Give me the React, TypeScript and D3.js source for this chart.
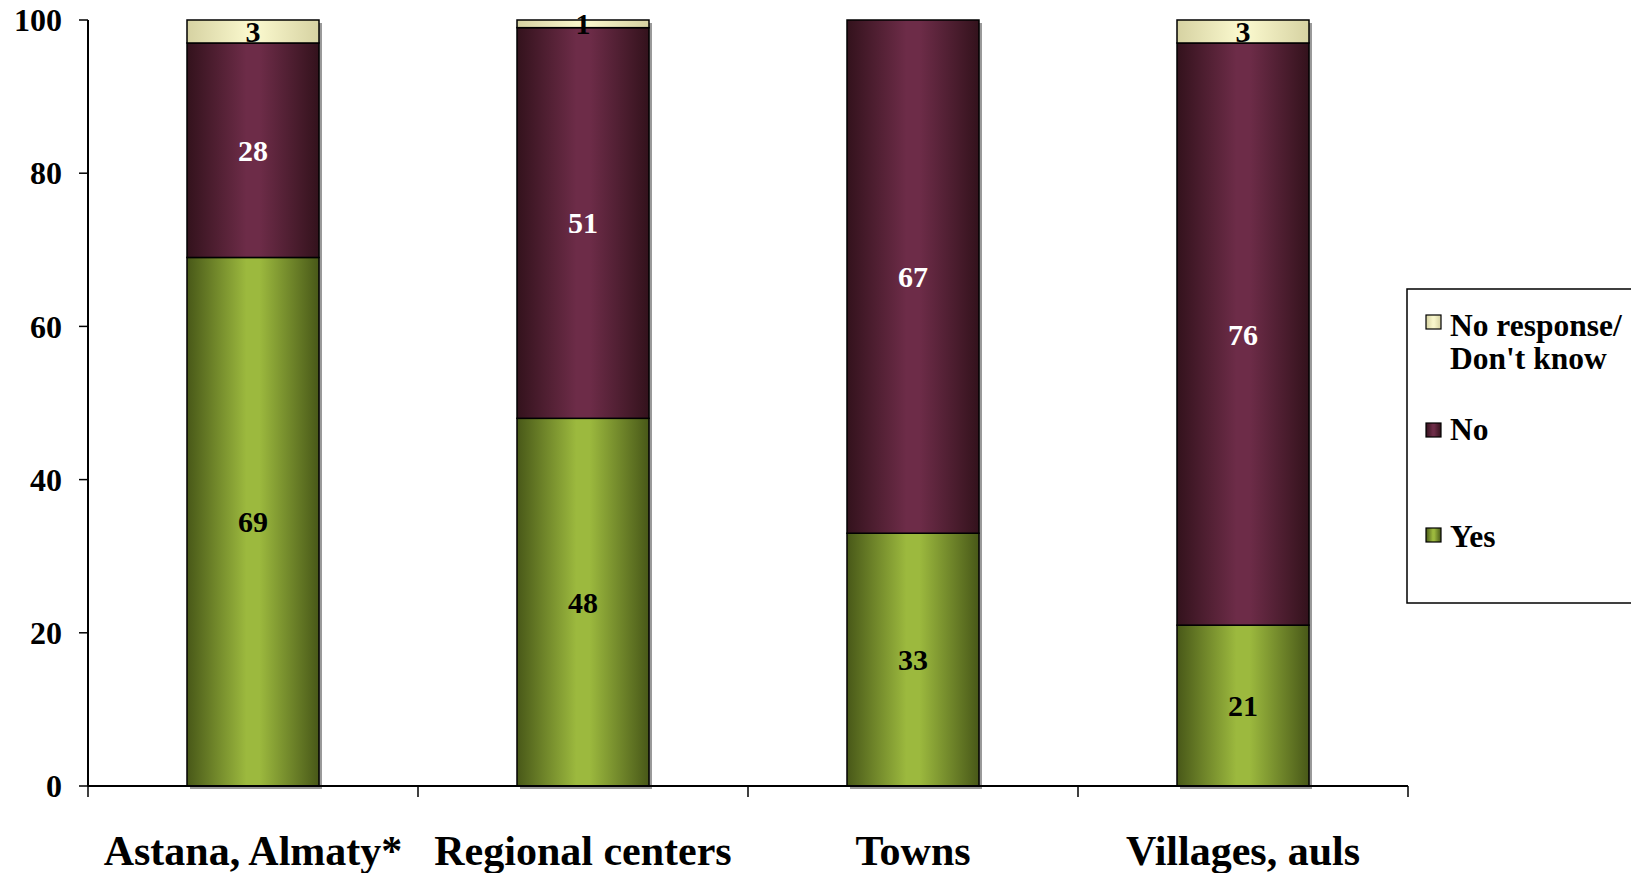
import React from "react";
import * as d3 from "d3";

const categories = ["Astana, Almaty*", "Regional centers", "Towns", "Villages, auls"];
const yesValues = [69, 48, 33, 21];
const noValues = [28, 51, 67, 76];
const dkValues = [3, 1, 0, 3];
const seriesNames = ["Yes", "No", "No response/ Don't know"];
const yTicks = [0, 20, 40, 60, 80, 100];

const W = 1631;
const H = 873;
const FONT = "'Liberation Serif', 'Times New Roman', serif";

export default function App() {
  const x = d3
    .scaleBand<string>()
    .domain(categories)
    .range([88, 1408])
    .paddingInner(0.6)
    .paddingOuter(0.3);
  const y = d3.scaleLinear().domain([0, 100]).range([786, 20]);
  const step = x.step();

  const rows = categories.map((c, i) => ({ cat: c, Yes: yesValues[i], No: noValues[i], DK: dkValues[i] }));
  const stack = d3.stack<any>().keys(["Yes", "No", "DK"]);
  const series = stack(rows);
  const grads = ["gYes", "gNo", "gDK"];
  const labelColors = ["#000", "#fff", "#000"];

  const gradDefs = [
    { id: "gYes", edge: "#485818", mid: "#9cb93e" },
    { id: "gNo", edge: "#33121c", mid: "#6d2c48" },
    { id: "gDK", edge: "#d6d2a2", mid: "#f8f6cb" },
  ];

  const legendItems = [
    { key: 2, lines: ["No response/", "Don't know"], markY: 315, baseY: 336 },
    { key: 1, lines: ["No"], markY: 423, baseY: 440 },
    { key: 0, lines: ["Yes"], markY: 528, baseY: 547 },
  ];

  return (
    <svg
      width={W}
      height={H}
      style={{ position: "absolute", left: 0, top: 0, display: "block", background: "#fff" }}
      fontFamily={FONT}
      fontWeight="bold"
    >
      <defs>
        {gradDefs.map((g) => (
          <linearGradient key={g.id} id={g.id} x1="0" y1="0" x2="1" y2="0">
            <stop offset="0%" stopColor={g.edge} />
            <stop offset="45%" stopColor={g.mid} />
            <stop offset="55%" stopColor={g.mid} />
            <stop offset="100%" stopColor={g.edge} />
          </linearGradient>
        ))}
      </defs>
      <rect x={0} y={0} width={W} height={H} fill="#fff" />

      {/* bar shadows */}
      {rows.map((r) => {
        const total = r.Yes + r.No + r.DK;
        return (
          <rect
            key={"sh" + r.cat}
            x={(x(r.cat) as number) + 3}
            y={y(total) + 3}
            width={x.bandwidth()}
            height={y(0) - y(total)}
            fill="#9a9a9a"
          />
        );
      })}

      {/* bars */}
      {series.map((s, si) =>
        s.map((d, i) => {
          const h = y(d[0]) - y(d[1]);
          if (h <= 0) return null;
          return (
            <rect
              key={si + "-" + i}
              x={x(categories[i]) as number}
              y={y(d[1])}
              width={x.bandwidth()}
              height={h}
              fill={`url(#${grads[si]})`}
              stroke="#000"
              strokeWidth={1.5}
            />
          );
        })
      )}

      {/* data labels */}
      {series.map((s, si) =>
        s.map((d, i) => {
          const v = d[1] - d[0];
          if (v <= 0) return null;
          return (
            <text
              key={"l" + si + "-" + i}
              x={(x(categories[i]) as number) + x.bandwidth() / 2}
              y={y((d[0] + d[1]) / 2)}
              dy="0.35em"
              textAnchor="middle"
              fontSize={30}
              fill={labelColors[si]}
            >
              {v}
            </text>
          );
        })
      )}

      {/* y axis */}
      <line x1={88} x2={88} y1={y(100)} y2={y(0)} stroke="#000" strokeWidth={2} />
      {yTicks.map((t) => (
        <g key={"yt" + t}>
          <line x1={79} x2={88} y1={y(t)} y2={y(t)} stroke="#000" strokeWidth={1.5} />
          <text x={62} y={y(t)} dy="0.35em" textAnchor="end" fontSize={32} fill="#000">
            {t}
          </text>
        </g>
      ))}

      {/* x axis */}
      <line x1={88} x2={1408} y1={y(0)} y2={y(0)} stroke="#000" strokeWidth={2} />
      {d3.range(categories.length + 1).map((i) => {
        const xx = 88 + i * step;
        return <line key={"xt" + i} x1={xx} x2={xx} y1={y(0)} y2={y(0) + 11} stroke="#000" strokeWidth={1.5} />;
      })}
      {categories.map((c) => (
        <text
          key={"xl" + c}
          x={(x(c) as number) + x.bandwidth() / 2}
          y={865}
          textAnchor="middle"
          fontSize={42}
          fill="#000"
        >
          {c}
        </text>
      ))}

      {/* legend */}
      <rect x={1407} y={289} width={260} height={314} fill="#fff" stroke="#000" strokeWidth={1.5} />
      {legendItems.map((it) => (
        <g key={"lg" + it.key}>
          <rect
            x={1426}
            y={it.markY}
            width={15}
            height={14}
            fill={`url(#${grads[it.key]})`}
            stroke="#000"
            strokeWidth={1.2}
          />
          {it.lines.map((ln, li) => (
            <text key={li} x={1450} y={it.baseY + li * 33} fontSize={31.5} fill="#000">
              {ln}
            </text>
          ))}
        </g>
      ))}
    </svg>
  );
}
